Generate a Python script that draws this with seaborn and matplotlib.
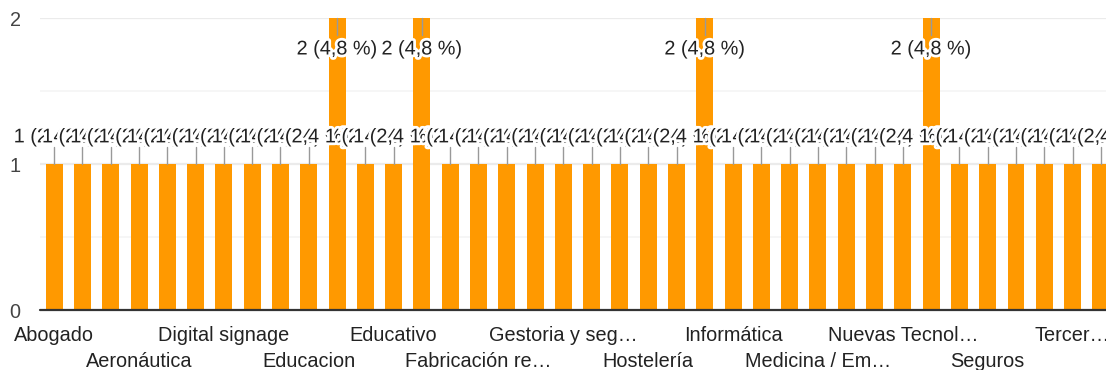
import matplotlib
matplotlib.use("Agg")
import matplotlib.pyplot as plt
import matplotlib.patheffects as pe
import seaborn as sns
import pandas as pd

# Responses per sector (alphabetical order)
categories = [
    "Abogado", "Administración", "Administración pública", "Aeronáutica",
    "Agricultura", "Comercio", "Digital signage", "Distribución", "Docencia",
    "Educacion", "Educación", "Educación superior", "Educativo", "Enseñanza",
    "Eventos", "Fabricación repuestos", "Finanzas", "Formación",
    "Gestoria y seguros", "Hardware", "Hospitalario", "Hostelería", "Imprenta",
    "Industria", "Informática", "Ingeniería", "Logística",
    "Medicina / Emergencias", "Metalurgia", "Multimedia", "Nuevas Tecnologías",
    "Publicidad", "Retail", "Seguros", "Software", "Telecomunicaciones",
    "Tercer sector", "Transporte",
]
counts = [1, 1, 1, 1, 1, 1, 1, 1, 1, 1,
          2, 1, 1, 2, 1, 1, 1, 1, 1, 1,
          1, 1, 1, 2, 1, 1, 1, 1, 1, 1,
          1, 2, 1, 1, 1, 1, 1, 1]

# Axis labels shown under every third bar, alternating between two rows
label_every = 3
tick_labels = [
    "Abogado", "Aeronáutica", "Digital signage", "Educacion", "Educativo",
    "Fabricación re…", "Gestoria y seg…", "Hostelería", "Informática",
    "Medicina / Em…", "Nuevas Tecnol…", "Seguros", "Tercer…",
]
y_ticks = [0, 1, 2]

BAR = "#ff9900"
TEXT = "#222222"
AXIS_TEXT = "#444444"
FONT = ["Liberation Sans", "DejaVu Sans"]
FS = 14.3

sns.set_theme(style="white")
plt.rcParams["font.family"] = FONT

df = pd.DataFrame({"sector": categories, "n": counts})
total = sum(counts)

fig = plt.figure(figsize=(11.06, 3.70), dpi=100)
# plot area runs slightly past the right edge of the canvas
ax = fig.add_axes([40 / 1106, 60 / 370, 1075 / 1106, 292 / 370])

sns.barplot(data=df, x="sector", y="n", color=BAR, saturation=1,
            width=0.6, ax=ax, zorder=2)
for p in ax.patches:
    p.set_edgecolor("none")

ax.set_xlim(-0.5, len(categories) - 0.5)
ax.set_ylim(0, 2)

# gridlines
for v in [0.5, 1.5]:
    ax.axhline(v, color="#f5f5f5", lw=1.2, zorder=0)
for v in [1, 2]:
    ax.axhline(v, color="#ebebeb", lw=1.6, zorder=0)
ax.axhline(0, color="#333333", lw=1.6, zorder=3, clip_on=False)

for s in ax.spines.values():
    s.set_visible(False)

ax.set_yticks(y_ticks)
ax.set_yticklabels([str(t) for t in y_ticks], fontsize=FS, color=AXIS_TEXT)
ax.tick_params(axis="y", length=0, pad=14)
for t in ax.get_yticklabels():
    t.set_horizontalalignment("right")

ax.set_xlabel("")
ax.set_ylabel("")

# category labels: two staggered rows
shown = list(range(0, len(categories), label_every))
row1 = shown[0::2]
row2 = shown[1::2]
ax.set_xticks(row1)
ax.set_xticklabels(tick_labels[0::2], fontsize=FS, color=TEXT)
ax.set_xticks(row2, minor=True)
ax.set_xticklabels(tick_labels[1::2], minor=True, fontsize=FS, color=TEXT)
ax.tick_params(axis="x", which="major", length=0, pad=11.5)
ax.tick_params(axis="x", which="minor", length=0, pad=30)

# value annotations with stems, drawn left to right with a white halo
halo = [pe.withStroke(linewidth=4, foreground="white")]
z = 5
for i, v in enumerate(counts):
    label = f"{v} ({v / total * 100:.1f} %)".replace(".", ",")
    if v >= 2:
        stem = (2.0, 1.884)
        ty = 1.75
    else:
        stem = (v, v + 0.116)
        ty = v + 0.148
    ax.plot([i, i], stem, color="#999999", lw=1, zorder=z, clip_on=False)
    ax.text(i, ty, label, ha="center", va="baseline", fontsize=FS,
            color=TEXT, zorder=z + 1, path_effects=halo, clip_on=False)
    z += 2

fig.savefig("out.png", dpi=100, facecolor="white")
